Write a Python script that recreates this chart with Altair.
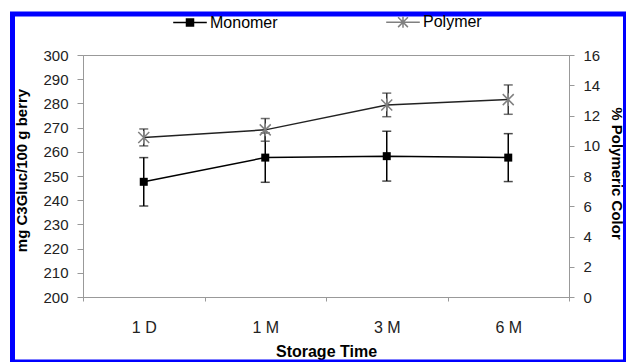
import altair as alt
import pandas as pd

times = ["1 D", "1 M", "3 M", "6 M"]
monomer = [247.6, 257.6, 258.2, 257.6]
monomer_err = [10.0, 10.2, 10.3, 9.9]
polymer = [10.55, 11.05, 12.7, 13.05]
polymer_err = [0.56, 0.75, 0.78, 0.97]
series = ["Monomer", "Polymer"]
left_ticks = list(range(200, 301, 10))
right_ticks = list(range(0, 17, 2))

FONT = "Liberation Sans"

dm = pd.DataFrame({
    "time": times,
    "v": monomer,
    "lo": [m - e for m, e in zip(monomer, monomer_err)],
    "hi": [m + e for m, e in zip(monomer, monomer_err)],
})
dp = pd.DataFrame({
    "time": times,
    "v": polymer,
    "lo": [m - e for m, e in zip(polymer, polymer_err)],
    "hi": [m + e for m, e in zip(polymer, polymer_err)],
})

x_axis = alt.Axis(
    title="Storage Time", labelAngle=0, tickBand="extent",
    labelFont=FONT, labelFontSize=16, labelColor="#222", labelBaseline="alphabetic",
    tickSize=4, tickColor="#999", labelPadding=31, domainColor="#999",
    titleFont=FONT, titleFontSize=16, titleFontWeight="bold", titleColor="black",
    titleBaseline="alphabetic", titleY=59, titleX=243,
)
x_enc = alt.X("time:N", sort=times, scale=alt.Scale(paddingInner=0, paddingOuter=0), axis=x_axis)

left_axis = alt.Axis(
    title="mg C3Gluc/100 g berry", values=left_ticks, grid=False, orient="left",
    labelFont=FONT, labelFontSize=15, labelColor="#222", tickSize=6, tickColor="#999",
    labelPadding=9, domainColor="#999",
    titleFont=FONT, titleFontSize=15, titleFontWeight="bold", titleColor="black",
    titleAngle=270, titleBaseline="alphabetic", titleAlign="center", titleX=-57, titleY=115,
)
right_axis = alt.Axis(
    title="% Polymeric Color", values=right_ticks, grid=False, orient="right",
    labelFont=FONT, labelFontSize=15, labelColor="#222", tickSize=5, tickColor="#999",
    labelPadding=9, domainColor="#999",
    titleFont=FONT, titleFontSize=15, titleFontWeight="bold", titleColor="black",
    titleAngle=90, titleBaseline="alphabetic", titleAlign="center", titleX=42, titleY=118,
)
ls = alt.Scale(domain=[200, 300], nice=False, zero=False)
rs = alt.Scale(domain=[0, 16], nice=False)

def series_layers(df, scale, axis, line_color, err_color, marker):
    base = alt.Chart(df)
    rule = base.mark_rule(color=err_color, strokeWidth=1.5).encode(
        x=x_enc, y=alt.Y("lo:Q", scale=scale, axis=axis), y2="hi:Q")
    cap_lo = base.mark_tick(color=err_color, size=9, thickness=1.5).encode(
        x=x_enc, y=alt.Y("lo:Q", scale=scale, axis=axis))
    cap_hi = base.mark_tick(color=err_color, size=9, thickness=1.5).encode(
        x=x_enc, y=alt.Y("hi:Q", scale=scale, axis=axis))
    line = base.mark_line(color=line_color, strokeWidth=1.5).encode(
        x=x_enc, y=alt.Y("v:Q", scale=scale, axis=axis))
    return alt.layer(rule, cap_lo, cap_hi, line, marker(base, scale, axis))

def square_marker(base, scale, axis):
    return base.mark_point(shape="square", filled=True, color="black", size=64, opacity=1).encode(
        x=x_enc, y=alt.Y("v:Q", scale=scale, axis=axis))

AST = "M-1,-1L1,1M-1,1L1,-1M0,-1.15V1.15"
def star_marker(base, scale, axis):
    return base.mark_point(shape=AST, filled=False, color="#808080", size=121,
                           strokeWidth=1.5, opacity=1).encode(
        x=x_enc, y=alt.Y("v:Q", scale=scale, axis=axis))

left = series_layers(dm, ls, left_axis, "black", "black", square_marker)
right = series_layers(dp, rs, right_axis, "#222", "#333", star_marker)

LEG_M = ("M-2.4,0H2.4M-0.5,-0.5H0.5V0.5H-0.5ZM-0.5,-0.3H0.5M-0.5,-0.1H0.5"
         "M-0.5,0.1H0.5M-0.5,0.3H0.5")
LEG_P = "M-2.4,0H2.4M-0.7,-0.7L0.7,0.7M-0.7,0.7L0.7,-0.7M0,-0.8V0.8"

legend_layer = alt.Chart(pd.DataFrame({"series": series})).transform_filter("false").mark_point(
    filled=False, strokeWidth=1.5, opacity=1).encode(
    shape=alt.Shape("series:N", scale=alt.Scale(domain=series, range=[LEG_M, LEG_P]), title=None),
    color=alt.Color("series:N", scale=alt.Scale(domain=series, range=["black", "#808080"]), title=None),
)

frame_lr = alt.Chart(alt.Data(values=[{"a": 1}])).mark_rect(
    filled=False, stroke="#0000ff", strokeWidth=5).encode(
    x=alt.value(-70.5), x2=alt.value(545), y=alt.value(-41), y2=alt.value(307))
frame_r = alt.Chart(alt.Data(values=[{"a": 1}])).mark_rule(
    color="#0000ff", strokeWidth=3).encode(
    x=alt.value(541.5), y=alt.value(-43), y2=alt.value(310))

chart = alt.layer(left, right, legend_layer, frame_lr, frame_r).resolve_scale(
    y="independent"
).properties(
    width=486, height=242,
    autosize=alt.AutoSizeParams(type="none"),
    padding={"left": 75, "top": 47, "right": 57, "bottom": 66},
    background="white",
).configure_view(
    stroke="#999", strokeWidth=1
).configure_legend(
    orient="none", legendX=99, legendY=-41, direction="horizontal",
    labelFont=FONT, labelFontSize=16, labelColor="black", labelOffset=12,
    symbolSize=196, symbolStrokeWidth=1.5, columnPadding=105, padding=0,
)

chart.save("out.html", embed_options={"renderer": "svg", "actions": False})
